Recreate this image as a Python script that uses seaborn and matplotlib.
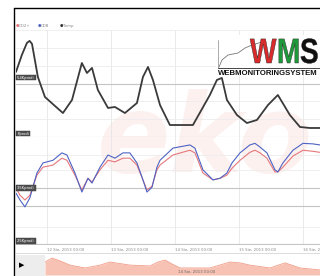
import matplotlib
matplotlib.use("Agg")
import matplotlib.pyplot as plt
import seaborn as sns
from matplotlib.lines import Line2D
from matplotlib.patches import Rectangle, PathPatch
from matplotlib.textpath import TextPath
from matplotlib.font_manager import FontProperties
from matplotlib.transforms import Affine2D, IdentityTransform

sns.set_style("white")
plt.rcParams['font.family'] = ['DejaVu Sans']

# czas w godzinach od 12 Sie 2013 00:00
temp_h = [-11.6, -9.4, -7.5, -6.5, -5.6, -3.4, -0.75, 2.6, 6, 9.4, 13.1, 15, 16.9, 19.1, 22.9,
          25.5, 29.25, 33.75, 36, 37.9, 39.75, 42.4, 46.1, 54.75, 61.1, 63.75, 65.6, 67.5,
          71.25, 75, 78.75, 82.9, 86.6, 91.1, 94.9, 98.6, 102.4]
temp_v = [6.57, 8.28, 9.5, 9.7, 9.4, 6.06, 4.04, 3.23, 2.42, 3.74, 7.47, 6.46, 6.97, 4.75, 2.93,
          3.03, 2.42, 3.43, 6.06, 7.07, 5.76, 3.23, 1.21, 1.21, 4.24, 5.76, 5.96, 3.74,
          2.22, 1.41, 1.72, 3.23, 4.24, 2.22, 1.01, 0.91, 0.91]

co_h = [-11.6, -10.1, -8.25, -6.4, -3.75, -1.5, 2.25, 5.6, 7.5, 10.5, 13.1, 15.4, 16.9, 19.9,
        22.9, 25.5, 28.5, 31.1, 33.75, 36, 37.5, 39.4, 41.25, 42.4, 47.25, 53.6, 55.5, 58.5,
        62.25, 64.9, 67.5, 69.4, 72.4, 76.1, 78, 79.9, 82.5, 85.5, 86.6, 88.5, 92.25, 96,
        99.75, 102.4]
cdb_v = [3.48, 3.35, 3.22, 3.39, 3.86, 4.05, 4.10, 4.24, 4.20, 3.86, 3.50, 3.76, 3.67, 3.97,
         4.20, 4.14, 4.24, 4.24, 4.05, 3.73, 3.50, 3.59, 3.97, 4.10, 4.33, 4.39, 4.33, 3.92,
         3.73, 3.76, 3.86, 4.05, 4.24, 4.39, 4.42, 4.35, 4.24, 3.92, 3.88, 4.05, 4.29, 4.42,
         4.41, 4.39]
co2_v = [3.58, 3.44, 3.35, 3.44, 3.82, 3.97, 4.01, 4.14, 4.10, 3.82, 3.54, 3.76, 3.69, 3.92,
         4.10, 4.07, 4.14, 4.14, 4.01, 3.73, 3.54, 3.61, 3.92, 4.01, 4.20, 4.29, 4.24, 3.86,
         3.73, 3.76, 3.82, 3.95, 4.10, 4.25, 4.29, 4.24, 4.14, 3.88, 3.88, 3.97, 4.18, 4.29,
         4.27, 4.25]

nav_h = [-0.75, 1.9, 4.9, 8.6, 14.25, 19.9, 23.6, 31.1, 38.6, 41.6, 44.25, 46.9, 49.9, 61.1,
         68.6, 72.4, 76.1, 83.6, 89.25, 94.9, 102.4]
nav_v = [5.9, 7.7, 6.4, 4.5, 3.2, 4.5, 5.9, 4.5, 4.1, 5.9, 6.8, 5.0, 3.2, 3.2, 5.9, 5.5,
         4.5, 3.2, 5.5, 3.2, 2.3]

tick_h = [0, 24, 48, 72, 96]
tick_labels = ["12 Sie, 2013 00:00", "13 Sie, 2013 00:00", "14 Sie, 2013 00:00",
               "15 Sie, 2013 00:00", "16 Sie, 2013 00:00"]
top_grid = [1.8, 3.6, 7.2, 9.0]
bot_grid = [2.84, 3.92, 4.2]

W, H = 320, 276

def px(x0, y0, x1, y1):
    return [x0 / W, 1 - y1 / H, (x1 - x0) / W, (y1 - y0) / H]

fig = plt.figure(figsize=(3.2, 2.76), dpi=100)
fig.patch.set_facecolor("white")

# znak wodny w tle
bg = fig.add_axes(px(16, 30, 320, 245), zorder=-5)
bg.axis("off")
bg.text(0.62, 0.48, "eko", transform=bg.transAxes, fontsize=78, fontweight="bold",
        style="italic", color="#fdf1ef", ha="center", va="center")

XL = (-11.6, 102.4)

def panel(rect, ylim, grid, dark):
    ax = fig.add_axes(rect)
    ax.set_facecolor("none")
    ax.set_xlim(*XL)
    ax.set_ylim(*ylim)
    for s in ax.spines.values():
        s.set_visible(False)
    ax.set_xticks(tick_h)
    ax.set_yticks([])
    ax.tick_params(length=0, labelbottom=False, labelleft=False)
    for t in tick_h:
        ax.axvline(t, color="#e6e6e6", lw=0.6, zorder=0)
    for g in grid:
        ax.axhline(g, color="#ececec", lw=0.6, zorder=0)
    for g in dark:
        ax.axhline(g, color="#c4c4c4", lw=0.8, zorder=0)
    return ax

ax_t = panel(px(16, 30, 320, 137), (0, 10.8), top_grid + [10.75], [0.02, 5.4])
ax_b = panel(px(16, 137, 320, 245), (2.5, 4.54), bot_grid, [3.24, 3.58, 2.51])

sns.lineplot(x=temp_h, y=temp_v, ax=ax_t, color="#3a3a3a", linewidth=1.3, zorder=3)
sns.lineplot(x=co_h, y=co2_v, ax=ax_b, color="#e5787c", linewidth=0.8, zorder=3)
sns.lineplot(x=co_h, y=cdb_v, ax=ax_b, color="#4e63c4", linewidth=0.8, zorder=3)

lab = dict(fontsize=2.6, color="white", ha="left", va="center",
           bbox=dict(boxstyle="square,pad=0.25", fc="#4f4f4f", ec="#333333", lw=0.3))
ax_t.text(0.004, 6.0, "5,4Kprodi", transform=ax_t.get_yaxis_transform(), zorder=5, **lab)
ax_t.text(0.004, 0.35, "Kprodi", transform=ax_t.get_yaxis_transform(), zorder=5, **lab)
ax_b.text(0.004, 3.58, "3,5Kprodi", transform=ax_b.get_yaxis_transform(), zorder=5, **lab)
ax_b.text(0.004, 2.58, "2,5Kprodi", transform=ax_b.get_yaxis_transform(), zorder=5, **lab)

ax_b.tick_params(labelbottom=True, labelsize=2.8, labelcolor="#888888", pad=2.5)
ax_b.set_xticklabels(tick_labels)
for lbl in ax_b.get_xticklabels():
    lbl.set_horizontalalignment("left")

# nawigator
ax_n = fig.add_axes(px(45, 253, 320, 275))
ax_n.set_facecolor("none")
for s in ax_n.spines.values():
    s.set_visible(False)
ax_n.set_xticks([])
ax_n.set_yticks([])
ax_n.set_xlim(-0.75, 102.4)
ax_n.set_ylim(0, 10)
ax_n.fill_between(nav_h, nav_v, 0, color="#f7c2b3", lw=0)
sns.lineplot(x=nav_h, y=nav_v, ax=ax_n, color="#f19d88", linewidth=0.6)
ax_n.text(0.55, 0.15, "14 Sie, 2013 00:00", transform=ax_n.transAxes, fontsize=2.8,
          color="#666666", ha="center", va="center")
fig.add_artist(Line2D([16 / W, 1], [1 - 253 / H] * 2, color="#d6d6d6", lw=0.6))
fig.add_artist(Rectangle((16 / W, 0), 29 / W, 21 / H, color="#ededed", lw=0))
fig.text(19 / W, 1 - 265 / H, "▶", fontsize=5, color="black", va="center")

# ramka
fig.add_artist(Line2D([14 / W, 14 / W], [0, 1 - 8 / H], color="black", lw=1.0))
fig.add_artist(Line2D([14 / W, 1], [1 - 8 / H] * 2, color="black", lw=1.0))

# legenda
for x0, name, c in [(16, "CO2+", "#e5787c"), (38, "CDB", "#4e63c4"), (60, "Temp", "#333333")]:
    fig.text(x0 / W, 1 - 26 / H, "●", fontsize=2.8, color=c, va="center")
    fig.text((x0 + 3) / W, 1 - 26 / H, name, fontsize=2.8, color="#888888", va="center")

# logo WMS
fig.add_artist(Rectangle((216 / W, 1 - 73 / H), 104 / W, 38 / H, color="white", lw=0, zorder=4))
logo_x = [219, 222, 228, 238, 245, 252, 262]
logo_y = [67, 60, 55, 53, 48, 45, 42]
fig.add_artist(Line2D([x / W for x in logo_x], [1 - y / H for y in logo_y],
                      color="#777777", lw=0.6, zorder=5))
fig.add_artist(Line2D([218 / W, 218 / W], [1 - 68 / H, 1 - 40 / H], color="#888888", lw=0.5, zorder=5))
fig.add_artist(Line2D([218 / W, 1], [1 - 68 / H] * 2, color="#444444", lw=0.7, zorder=5))
bold = FontProperties(family="Liberation Sans", weight="bold")
for x0, ch, c in [(250, "W", "#d92b2b"), (277, "M", "#1f9a3a"), (300, "S", "#111111")]:
    tp = TextPath((0, 0), ch, size=35, prop=bold)
    tr = Affine2D().scale(0.8, 1.0).translate(x0, H - 63)
    fig.add_artist(PathPatch(tr.transform_path(tp), transform=IdentityTransform(),
                             fc=c, ec="#222222", lw=0.3, zorder=6))
fig.text(218 / W, 1 - 75 / H, "WEBMONITORINGSYSTEM", fontsize=5.6, fontweight="bold",
         color="#111111", family="Liberation Sans", va="baseline", zorder=6)

fig.savefig("out.png", dpi=100)
